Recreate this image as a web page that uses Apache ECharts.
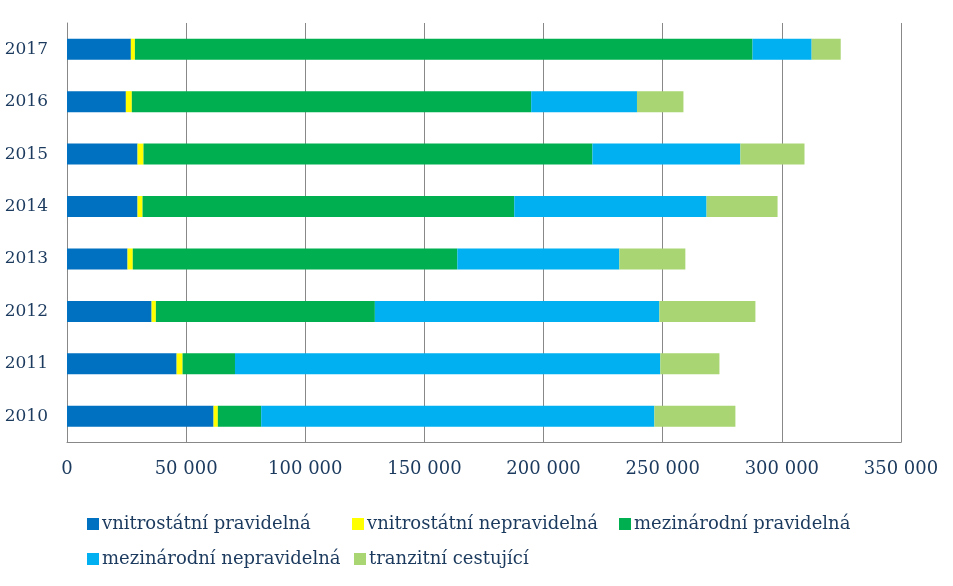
<!DOCTYPE html>
<html>
<head>
<meta charset="utf-8">
<script src="https://cdn.jsdelivr.net/npm/echarts@6/dist/echarts.min.js"></script>
<style>
html,body{margin:0;padding:0;background:#fff;}
#chart{width:953px;height:586px;}
</style>
</head>
<body>
<div id="chart"></div>
<script>
const years = ['2010','2011','2012','2013','2014','2015','2016','2017'];
const seriesNames = ['vnitrostátní pravidelná','vnitrostátní nepravidelná','mezinárodní pravidelná','mezinárodní nepravidelná','tranzitní cestující'];
const domesticRegular   = [61500, 46000, 35500, 25400, 29600, 29600, 24700, 26800];
const domesticIrregular = [1800, 2500, 1800, 2200, 2100, 2500, 2500, 1700];
const intlRegular       = [18200, 22000, 91900, 136200, 156000, 188400, 167600, 259200];
const intlIrregular     = [165000, 178500, 119400, 68000, 80700, 62100, 44400, 24800];
const transit           = [34000, 24800, 40300, 27700, 29800, 26900, 19500, 12200];
const xTicks = [0, 50000, 100000, 150000, 200000, 250000, 300000, 350000];

const colors = ['#0070C0','#FFFF00','#00B050','#00B0F0','#A9D672'];
const values = [domesticRegular, domesticIrregular, intlRegular, intlIrregular, transit];
const textColor = '#1b3a5e';
const font = 'DejaVu Serif';

function fmt(v){ return String(v).replace(/\B(?=(\d{3})+(?!\d))/g, ' '); }

const legendPos = [
  {left: 87, top: 515},
  {left: 352, top: 515},
  {left: 619, top: 515},
  {left: 87, top: 550},
  {left: 354, top: 550}
];

const chart = echarts.init(document.getElementById('chart'), null, {renderer:'canvas'});
chart.setOption({
  animation: false,
  backgroundColor: '#fff',
  color: colors,
  grid: {left: 67, right: 52, top: 23, bottom: 143.5, containLabel: false},
  legend: seriesNames.map((n, i) => ({
    data: [n],
    left: legendPos[i].left,
    top: legendPos[i].top,
    icon: 'rect',
    itemWidth: 12,
    itemHeight: 12,
    padding: 0,
    textStyle: {fontFamily: font, fontSize: 18, color: textColor, padding: [0,0,0,-2]}
  })),
  xAxis: {
    type: 'value',
    min: 0, max: 350000, interval: 50000,
    axisLine: {show: true, lineStyle: {color: '#888888', width: 1}},
    axisTick: {show: false},
    splitLine: {show: true, lineStyle: {color: '#888888', width: 1}},
    axisLabel: {
      fontFamily: font, fontSize: 18, color: textColor, margin: 18,
      formatter: v => xTicks.includes(v) ? fmt(v) : ''
    }
  },
  yAxis: {
    type: 'category',
    data: years,
    axisLine: {show: true, lineStyle: {color: '#888888', width: 1}},
    axisTick: {show: false},
    axisLabel: {fontFamily: font, fontSize: 17, color: textColor, margin: 19}
  },
  series: seriesNames.map((n, i) => ({
    name: n,
    type: 'bar',
    stack: 'total',
    barWidth: 21,
    data: values[i],
    itemStyle: {color: colors[i]}
  }))
});
</script>
</body>
</html>
